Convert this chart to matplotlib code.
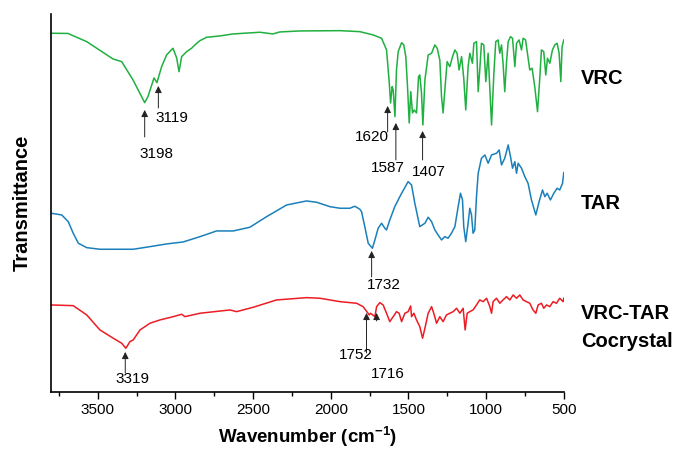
import matplotlib
matplotlib.use('Agg')
import matplotlib.pyplot as plt
import matplotlib.transforms as mtransforms
from matplotlib.ticker import MultipleLocator

plt.rcParams['font.family'] = ['Liberation Sans', 'DejaVu Sans']
plt.rcParams['mathtext.fontset'] = 'custom'
plt.rcParams['mathtext.rm'] = 'Liberation Sans'
plt.rcParams['mathtext.bf'] = 'Liberation Sans:bold'

# wavenumber (cm-1) and transmittance (arbitrary, offset)
vrc_wn = [3800, 3692, 3571, 3402, 3346, 3273, 3198, 3177, 3138, 3119, 3089, 3057,
          3016, 2992, 2977, 2960, 2928, 2896, 2875, 2842, 2799, 2714, 2630, 2456,
          2373, 2328, 2199, 1941, 1813, 1727, 1673, 1641, 1624, 1615, 1605, 1598,
          1587, 1577, 1566, 1544, 1530, 1517, 1506, 1495, 1485, 1474, 1463, 1448,
          1435, 1427, 1416, 1407, 1394, 1373, 1351, 1330, 1315, 1298, 1287, 1277,
          1264, 1251, 1234, 1216, 1201, 1187, 1174, 1158, 1144, 1131, 1116, 1105,
          1088, 1079, 1062, 1051, 1041, 1030, 1015, 1002, 987, 965, 950, 938, 923,
          912, 901, 891, 880, 869, 858, 843, 830, 815, 804, 788, 772, 762, 746,
          734, 719, 704, 687, 669, 654, 644, 629, 616, 605, 590, 573, 558, 543,
          530, 519, 511, 500]
vrc_t = [358.7, 358.5, 350.3, 333, 330.3, 312, 289.3, 295.3, 314, 309.3, 325.3, 337,
         343.7, 334, 320.3, 335.3, 340.3, 343.7, 347, 351.3, 354.7, 356, 358, 359.7,
         358, 360, 361, 361.3, 360.3, 357, 353.7, 342, 310.3, 289, 305.3, 302,
         275.3, 322, 340.3, 349.3, 347, 335.3, 305.3, 269, 300.3, 279, 282, 279,
         315.3, 317, 299, 267, 312, 337, 338.7, 347, 343.7, 332, 295.3, 279,
         305.3, 330.3, 325.3, 335.3, 342, 338.7, 322, 335.3, 313.7, 282, 325.3, 338.7,
         328.7, 348.7, 350.3, 300.3, 322, 348.7, 347, 310.3, 338.7, 267, 318.7, 350.3, 352,
         338.7, 347, 328.7, 300.3, 328.7, 350.3, 355.3, 353.7, 325.3, 348.7, 352, 342, 353.7, 352,
         338.7, 322, 323.7, 305.3, 280.3, 315.3, 342, 340.3, 317, 333.7, 328.7, 342, 347, 348.7,
         338.7, 310.3, 345.3, 352]

tar_wn = [3800, 3732, 3690, 3658, 3625, 3571, 3486, 3272, 3164, 3057, 2950, 2842,
          2735, 2628, 2521, 2413, 2284, 2156, 2091, 2006, 1941, 1877, 1845, 1813,
          1802, 1781, 1759, 1732, 1716, 1695, 1673, 1652, 1641, 1620, 1588, 1544,
          1502, 1480, 1459, 1427, 1394, 1373, 1351, 1330, 1309, 1287, 1266, 1245,
          1223, 1201, 1180, 1165, 1152, 1144, 1131, 1116, 1105, 1094, 1084, 1073,
          1062, 1051, 1030, 1008, 987, 965, 933, 916, 901, 880, 858, 843, 830, 815,
          804, 794, 772, 751, 730, 708, 680, 659, 637, 622, 607, 586, 564, 543,
          526, 508, 500]
tar_t = [178.7, 177, 170.3, 158.7, 148.7, 144.3, 142.7, 142.7, 145.3, 148, 150, 155.3,
         161, 161, 164.7, 175.3, 187, 191, 189.7, 185.3, 183.7, 183.7, 185.7, 182.7,
         180.3, 165.3, 148.7, 143.7, 152, 163.7, 168.7, 163.7, 162, 172, 185.3, 198.7,
         210.3, 207, 188.7, 165.3, 168.7, 174.7, 170.3, 162, 157, 152, 155.3, 153.7,
         158.7, 165.3, 185.3, 198.7, 192, 165.3, 150.3, 168.7, 183.7, 177, 158.7, 162,
         195.3, 218.7, 233.7, 237, 228.7, 237, 238.7, 242, 227, 233.7, 247, 235.3, 223.7, 230.3,
         218.7, 228.7, 223.7, 215.3, 208.7, 192, 177, 190.3, 202, 195.3, 198.7, 192, 198.7, 203.7,
         202, 208.7, 219.3]

co_wn = [3800, 3658, 3571, 3486, 3400, 3346, 3319, 3293, 3272, 3228, 3164, 3100,
         3014, 2960, 2939, 2842, 2649, 2606, 2499, 2349, 2156, 2070, 1941, 1834,
         1792, 1752, 1744, 1716, 1705, 1684, 1663, 1641, 1620, 1598, 1577, 1560,
         1544, 1523, 1502, 1486, 1480, 1465, 1448, 1427, 1409, 1394, 1373, 1351,
         1337, 1319, 1298, 1277, 1255, 1234, 1212, 1190, 1169, 1148, 1135, 1122,
         1105, 1084, 1062, 1041, 1019, 997, 976, 965, 955, 933, 912, 891, 869, 847,
         826, 804, 783, 762, 740, 719, 698, 680, 665, 644, 629, 611, 590, 569, 547,
         526, 504, 500]
co_t = [87, 86.3, 77, 62, 53.7, 48.7, 43.7, 50.3, 52, 62, 68.7, 72,
        75.3, 77.7, 75.3, 78.7, 82, 80.3, 84.7, 92, 94.3, 93.7, 90.3, 88.7,
        85.3, 77, 78.7, 75.3, 85.3, 89.3, 87, 78.7, 70.3, 75.3, 80.3, 78.7,
        70.3, 78.7, 80.3, 86, 75.3, 78.7, 72, 65.3, 53.7, 63.7, 78.7, 85.3,
        78.7, 68.7, 75.3, 70.3, 77, 78.7, 80.3, 83.7, 78.7, 83.7, 62, 78.7,
        80.3, 82, 87, 92, 90.3, 93.7, 85.3, 78.7, 90.3, 93.7, 88.7, 92, 95.3, 92,
        97, 93.7, 97, 92, 90.3, 88.7, 82, 78.7, 87, 88.7, 83.7, 87, 85.3, 90.3, 88.7,
        93.7, 90.3, 93.7]

# peak labels: (text, arrow x, arrow tip y, arrow tail y, text x, text y)
peaks = [
    ('3198', 3198, 282, 255, 3125, 238),
    ('3119', 3110, 306, 284, 3023, 274),
    ('1620', 1634, 286, 260, 1734, 255),
    ('1587', 1581, 269, 232, 1634, 224),
    ('1407', 1409, 261, 232, 1367, 220),
    ('1732', 1737, 141, 115, 1656, 107),
    ('3319', 3323, 40, 19, 3275, 13),
    ('1752', 1770, 79, 39, 1838, 37),
    ('1716', 1705, 79, 71, 1634, 18),
]

fig = plt.figure(figsize=(6.76, 4.5), dpi=100)
ax = fig.add_axes([0.075, 0.129, 0.759, 0.84])

ax.plot(vrc_wn, vrc_t, color='#1fb040', lw=1.1)
ax.plot(tar_wn, tar_t, color='#1a80bb', lw=1.1)
ax.plot(co_wn, co_t, color='#ec1c24', lw=1.1)

for label, x, tip, tail, tx, ty in peaks:
    ax.annotate('', xy=(x, tip), xytext=(x, tail),
                arrowprops=dict(arrowstyle='-|>', color='#222222', lw=0.7,
                                mutation_scale=10, shrinkA=0, shrinkB=0))
    ax.text(tx, ty, label, fontsize=11, ha='center', va='center')

trans = mtransforms.blended_transform_factory(ax.transAxes, ax.transData)
ax.text(1.034, 313, 'VRC', transform=trans, fontsize=14.5, fontweight='bold', va='center')
ax.text(1.034, 188, 'TAR', transform=trans, fontsize=14.5, fontweight='bold', va='center')
ax.text(1.034, 78, 'VRC-TAR', transform=trans, fontsize=14.5, fontweight='bold', va='center')
ax.text(1.034, 50, 'Cocrystal', transform=trans, fontsize=14.5, fontweight='bold', va='center')

ax.set_xlim(3803, 500)
ax.set_ylim(0, 378)
ax.xaxis.set_major_locator(MultipleLocator(500))
ax.xaxis.set_minor_locator(MultipleLocator(250))
ax.tick_params(axis='x', which='major', length=5, width=1, labelsize=11, pad=3)
ax.tick_params(axis='x', which='minor', length=3, width=1)
ax.set_yticks([])
ax.spines['top'].set_visible(False)
ax.spines['right'].set_visible(False)
ax.spines['left'].set_linewidth(1.2)
ax.spines['bottom'].set_linewidth(1.2)

ax.set_xlabel(r'Wavenumber (cm$^{\mathbf{-1}}$)', fontsize=13.5, fontweight='bold', labelpad=5)
ax.set_ylabel('Transmittance', fontsize=14.5, fontweight='bold', labelpad=14)

fig.savefig('out.png', dpi=100)
